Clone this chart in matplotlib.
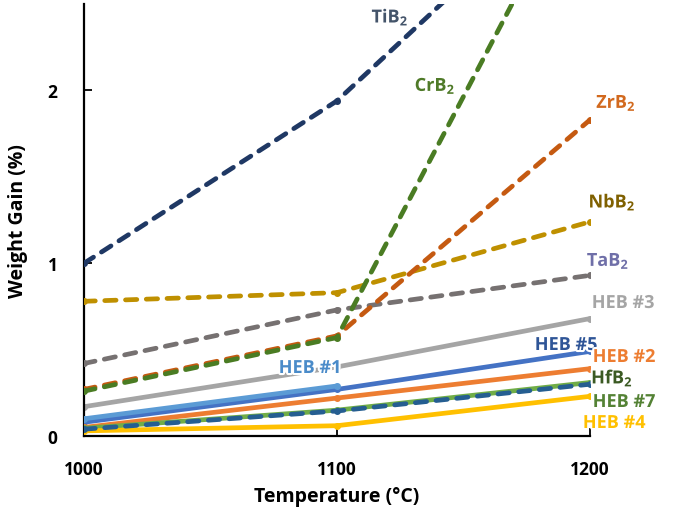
import matplotlib
matplotlib.use("Agg")
import matplotlib.pyplot as plt
import matplotlib.patheffects as pe

plt.rcParams['font.family'] = ['Open Sans', 'DejaVu Sans']
plt.rcParams['mathtext.fontset'] = 'custom'
plt.rcParams['mathtext.rm'] = 'Open Sans'
plt.rcParams['mathtext.bf'] = 'Open Sans:bold'

temps = [1000, 1100, 1200]
temps_heb1 = [1000, 1100]

tib2 = [1.00, 1.94, 3.30]
crb2 = [0.26, 0.57, 3.36]
zrb2 = [0.27, 0.58, 1.83]
nbb2 = [0.78, 0.83, 1.24]
tab2 = [0.42, 0.73, 0.93]
heb3 = [0.17, 0.40, 0.68]
heb1 = [0.10, 0.29]
heb5 = [0.08, 0.27, 0.49]
heb2 = [0.05, 0.22, 0.39]
hfb2 = [0.04, 0.145, 0.30]
heb7 = [0.045, 0.15, 0.31]
heb4 = [0.03, 0.06, 0.23]

yticks = [0, 1, 2]
xticks = [1000, 1100, 1200]

fig = plt.figure(figsize=(6.75, 5.1), dpi=100)
ax = fig.add_axes([0.1244, 0.143, 0.7496, 0.847])

lw = 3.4
dash = (2.4, 2.0)

def solid(x, y, c, z):
    ax.plot(x, y, color=c, lw=lw, solid_capstyle='round', marker='o', ms=4, zorder=z)

def dashed(x, y, c, z):
    ax.plot(x, y, color=c, lw=lw, ls=(0, dash), dash_capstyle='round', marker='o', ms=4, zorder=z)

solid(temps, heb3, '#A5A5A5', 2)
solid(temps, heb5, '#4472C4', 3)
solid(temps_heb1, heb1, '#5B9BD5', 4)
solid(temps, heb2, '#ED7D31', 3)
solid(temps, heb7, '#70AD47', 3)
solid(temps, heb4, '#FFC000', 3)
dashed(temps, hfb2, '#255E91', 5)
dashed(temps, tab2, '#767171', 5)
dashed(temps, nbb2, '#BF9000', 5)
dashed(temps, zrb2, '#C55A11', 5)
dashed(temps, crb2, '#4A7C23', 6)
dashed(temps, tib2, '#1F3864', 6)

ax.set_xlim(1000, 1200)
ax.set_ylim(0, 2.5)
ax.set_xticks(xticks)
ax.set_yticks(yticks)
ax.set_xticklabels([str(t) for t in xticks], fontsize=12.5, fontweight='bold')
ax.set_yticklabels([str(t) for t in yticks], fontsize=12.5, fontweight='bold')
ax.tick_params(axis='x', direction='in', length=6, width=1.3, pad=17)
ax.tick_params(axis='y', direction='in', length=6, width=1.3, pad=19)
for s in ['top', 'right']:
    ax.spines[s].set_visible(False)
for s in ['left', 'bottom']:
    ax.spines[s].set_linewidth(1.6)
ax.set_xlabel('Temperature (°C)', fontsize=14, fontweight='bold', labelpad=6)
ax.set_ylabel('Weight Gain (%)', fontsize=14, fontweight='bold', labelpad=14)

glow = [pe.withStroke(linewidth=3, foreground='white')]
labels = [
    (r'TiB$_{\mathbf{2}}$', 390, 18, '#44546A'),
    (r'CrB$_{\mathbf{2}}$', 435, 87, '#4F7A28'),
    (r'ZrB$_{\mathbf{2}}$', 616, 104, '#D2691E'),
    (r'NbB$_{\mathbf{2}}$', 612, 203, '#7F6000'),
    (r'TaB$_{\mathbf{2}}$', 608, 262, '#6F6FA8'),
    ('HEB #3', 623, 304, '#A5A5A5'),
    ('HEB #5', 566, 346, '#2F5597'),
    ('HEB #2', 624, 358, '#ED7D31'),
    (r'HfB$_{\mathbf{2}}$', 612, 379, '#3B5A23'),
    ('HEB #7', 624, 403, '#548235'),
    ('HEB #4', 614, 424, '#FFC000'),
    ('HEB #1', 310, 369, '#4A8BC9'),
]
for txt, px, py, c in labels:
    fig.text(px / 675, 1 - py / 510, txt, color=c, fontsize=13, fontweight='bold',
             ha='center', va='center', path_effects=glow, zorder=10)

fig.savefig('out.png', dpi=100)
